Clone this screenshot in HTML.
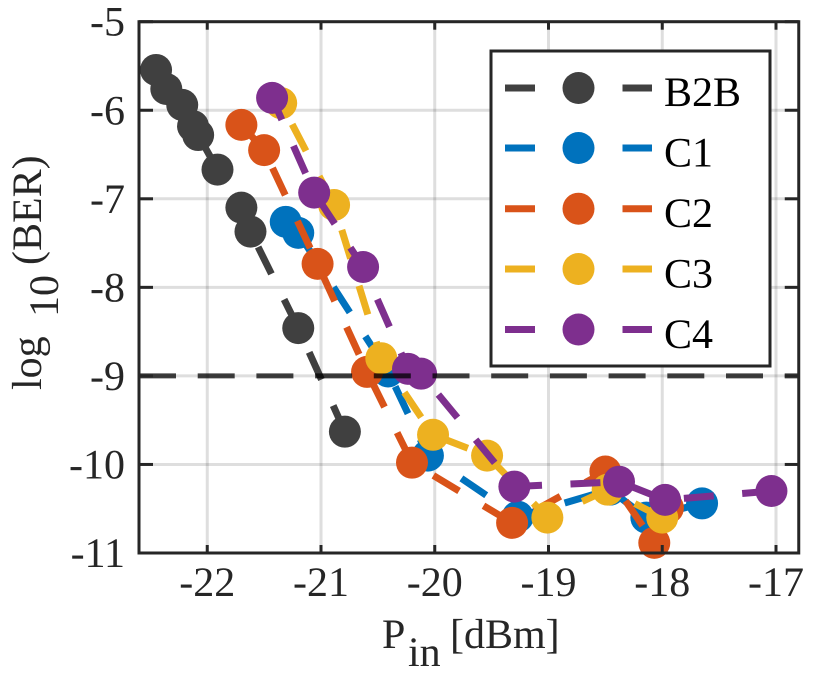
<!DOCTYPE html>
<html lang="en">
<head>
<meta charset="utf-8">
<title>BER versus input power</title>
<style>
html,body{margin:0;padding:0;background:#fff;}
svg{display:block;}
text{font-family:"Liberation Serif",serif;font-size:42px;fill:#262626;text-rendering:geometricPrecision;}
</style>
</head>
<body>
<svg id="chart" xmlns="http://www.w3.org/2000/svg" width="832" height="674" viewBox="0 0 832 674">
  <rect x="0" y="0" width="832" height="674" fill="#fff"/>
  <g id="grid"></g>
  <g id="series"></g>
  <g id="threshold"></g>
  <g id="axes"></g>
  <text x="382" y="648">P</text>
  <text x="408" y="666">in</text>
  <text x="450" y="648">[dBm]</text>
  <text transform="translate(41 390) rotate(-90)">log</text>
  <text transform="translate(58 317) rotate(-90)">10</text>
  <text transform="translate(41 265) rotate(-90)">(BER)</text>
  <g id="legend">
    <rect x="491" y="51" width="279" height="315" fill="#fff" stroke="#262626" stroke-width="3"/>
    <g>
      <path d="M505 88H535M622.5 88H652" stroke="#404040" stroke-width="7" fill="none"/>
      <circle cx="578.5" cy="88" r="16" fill="#404040"/>
      <text x="664" y="106" style="fill:#000">B2B</text>
    </g>
    <g>
      <path d="M505 148H535M622.5 148H652" stroke="#0072BD" stroke-width="7" fill="none"/>
      <circle cx="578.5" cy="148" r="16" fill="#0072BD"/>
      <text x="664" y="166.5" style="fill:#000">C1</text>
    </g>
    <g>
      <path d="M505 208.7H535M622.5 208.7H652" stroke="#D95319" stroke-width="7" fill="none"/>
      <circle cx="578.5" cy="208.7" r="16" fill="#D95319"/>
      <text x="664" y="227" style="fill:#000">C2</text>
    </g>
    <g>
      <path d="M505 269H535M622.5 269H652" stroke="#EDB120" stroke-width="7" fill="none"/>
      <circle cx="578.5" cy="269" r="16" fill="#EDB120"/>
      <text x="664" y="287.5" style="fill:#000">C3</text>
    </g>
    <g>
      <path d="M505 329.5H535M622.5 329.5H652" stroke="#7E2F8E" stroke-width="7" fill="none"/>
      <circle cx="578.5" cy="329.5" r="16" fill="#7E2F8E"/>
      <text x="664" y="348" style="fill:#000">C4</text>
    </g>
  </g>
</svg>
<script>
// Chart data
const xTickValues = [-22, -21, -20, -19, -18, -17];
const xTickLabels = ['-22', '-21', '-20', '-19', '-18', '-17'];
const yTickValues = [-5, -6, -7, -8, -9, -10, -11];
const yTickLabels = ['-5', '-6', '-7', '-8', '-9', '-10', '-11'];
const thresholdValue = -9;

const b2bPower = [-22.45, -22.36, -22.22, -22.125, -22.08, -21.91, -21.70, -21.62, -21.20, -20.79];
const b2bBer = [-5.545, -5.76, -5.94, -6.18, -6.28, -6.67, -7.10, -7.37, -8.46, -9.63];
const c1Power = [-21.31, -21.20, -20.41, -20.06, -19.27, -18.46, -18.14, -17.65];
const c1Ber = [-7.26, -7.385, -8.95, -9.90, -10.59, -10.285, -10.60, -10.44];
const c2Power = [-21.70, -21.50, -21.03, -20.595, -20.20, -19.32, -18.50, -18.07, -17.95];
const c2Ber = [-6.165, -6.45, -7.735, -8.955, -9.98, -10.66, -10.08, -10.885, -10.49];
const c3Power = [-21.35, -20.885, -20.47, -20.015, -19.54, -19.01, -18.48, -18.00];
const c3Ber = [-5.92, -7.07, -8.80, -9.665, -9.90, -10.60, -10.285, -10.60];
const c4Power = [-21.43, -21.06, -20.63, -20.235, -20.12, -19.30, -18.38, -17.975, -17.04];
const c4Ber = [-5.86, -6.93, -7.77, -8.92, -8.975, -10.25, -10.195, -10.40, -10.30];

// Plot geometry and axis functions
const NS = 'http://www.w3.org/2000/svg';
const plotLeft = 139, plotRight = 798.75, plotTop = 21.7, plotBottom = 553;
const xMin = -22.6, xMax = -16.8, yMin = -11, yMax = -5;
function xScale(v) { return plotLeft + (v - xMin) / (xMax - xMin) * (plotRight - plotLeft); }
function yScale(v) { return plotBottom - (v - yMin) / (yMax - yMin) * (plotBottom - plotTop); }

function make(tag, parent, attrs) {
  const el = document.createElementNS(NS, tag);
  for (const k in attrs) el.setAttribute(k, attrs[k]);
  parent.appendChild(el);
  return el;
}

const gridG = document.getElementById('grid');
const axesG = document.getElementById('axes');
const seriesG = document.getElementById('series');
const thresholdG = document.getElementById('threshold');

// Grid lines, ticks, tick labels
xTickValues.forEach(function (v, i) {
  const x = xScale(v);
  const g = make('line', gridG, { x1: x, x2: x, y1: plotTop, y2: plotBottom, stroke: '#000', 'stroke-opacity': 0.13, 'stroke-width': 3 });
  
  
  const t1 = make('line', axesG, { x1: x, x2: x, y1: plotBottom, y2: plotBottom - 8, stroke: '#262626', 'stroke-width': 3 });
  
  
  const t2 = make('line', axesG, { x1: x, x2: x, y1: plotTop, y2: plotTop + 8, stroke: '#262626', 'stroke-width': 3 });
  
  
  const label = make('text', axesG, { x: x, y: 596, 'text-anchor': 'middle' });
  label.textContent = xTickLabels[i];
  
  
});

yTickValues.forEach(function (v, i) {
  const y = yScale(v);
  const g = make('line', gridG, { x1: plotLeft, x2: plotRight, y1: y, y2: y, stroke: '#000', 'stroke-opacity': 0.13, 'stroke-width': 3 });
  
  
  const t1 = make('line', axesG, { x1: plotLeft, x2: plotLeft + 14, y1: y, y2: y, stroke: '#262626', 'stroke-width': 3 });
  
  
  const t2 = make('line', axesG, { x1: plotRight, x2: plotRight - 14, y1: y, y2: y, stroke: '#262626', 'stroke-width': 3 });
  
  
  const label = make('text', axesG, { x: 125, y: y + 14, 'text-anchor': 'end' });
  label.textContent = yTickLabels[i];
  
  
});

const frame = make('rect', axesG, { x: plotLeft, y: plotTop, width: plotRight - plotLeft, height: plotBottom - plotTop, fill: 'none', stroke: '#262626', 'stroke-width': 3 });



// Series
function drawSeries(name, xs, ys, color, dashShift) {
  const group = make('g', seriesG, {});
  
  
  const pts = xs.map(function (v, i) { return xScale(v).toFixed(1) + ',' + yScale(ys[i]).toFixed(1); }).join(' ');
  const line = make('polyline', group, { points: pts, fill: 'none', stroke: color, 'stroke-width': 7, 'stroke-dasharray': '30 28.5', 'stroke-dashoffset': -dashShift });
  
  
  xs.forEach(function (v, i) {
    const c = make('circle', group, { cx: xScale(v), cy: yScale(ys[i]), r: 16, fill: color });
    
    
  });
}
drawSeries('b2b', b2bPower, b2bBer, '#404040', 30);
drawSeries('c1', c1Power, c1Ber, '#0072BD', 23);
drawSeries('c2', c2Power, c2Ber, '#D95319', 53.7);
drawSeries('c3', c3Power, c3Ber, '#EDB120', 23.8);
drawSeries('c4', c4Power, c4Ber, '#7E2F8E', 52.5);

// Threshold line
const thresholdLine = make('line', thresholdG, { x1: plotLeft, x2: plotRight, y1: yScale(thresholdValue), y2: yScale(thresholdValue), stroke: '#000', 'stroke-opacity': 0.75, 'stroke-width': 5, 'stroke-dasharray': '37 21.7' });


</script>
</body>
</html>
